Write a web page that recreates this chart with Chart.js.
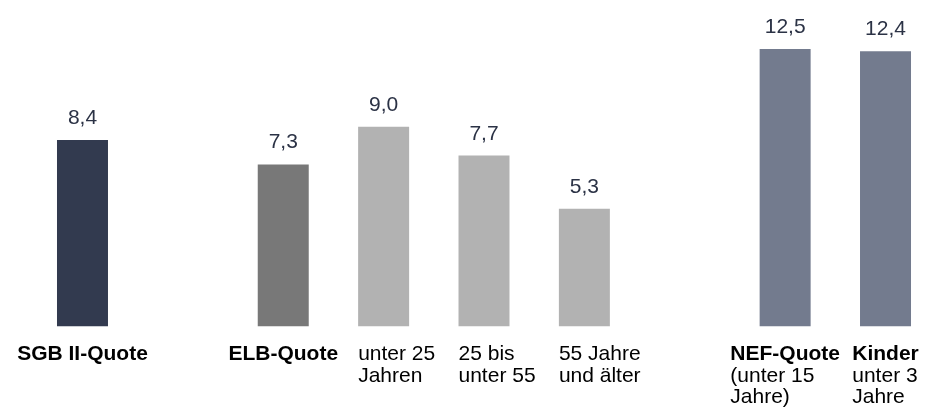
<!DOCTYPE html>
<html>
<head>
<meta charset="utf-8">
<script src="https://cdn.jsdelivr.net/npm/chart.js@4/dist/chart.umd.min.js"></script>
<style>
  html, body { margin: 0; padding: 0; background: #fff; overflow: hidden; }
  #wrap { width: 960px; height: 409px; }
</style>
</head>
<body>
<div id="wrap"><canvas id="chart"></canvas></div>
<script>
// slots: empty strings / nulls are the gaps between the groups
const headlines = ['SGB II-Quote', '', 'ELB-Quote', '', '', '', '', 'NEF-Quote', 'Kinder'];
const sublines = [
    [], [], [],
    ['unter 25', 'Jahren'],
    ['25 bis', 'unter 55'],
    ['55 Jahre', 'und älter'],
    [],
    ['(unter 15', 'Jahre)'],
    ['unter 3', 'Jahre']
];
const quoten = [8.4, null, 7.3, 9.0, 7.7, 5.3, null, 12.5, 12.4];

const barColors = ['#323a4f', '#fff', '#787878', '#b2b2b2', '#b2b2b2', '#b2b2b2', '#fff', '#737b8e', '#737b8e'];
const FONT = '"Liberation Sans", Arial, sans-serif';

function fmt(v) {
    return v.toFixed(1).replace('.', ',');
}

const labelPlugin = {
    id: 'labels',
    afterDatasetsDraw(chart) {
        const ctx = chart.ctx;
        const meta = chart.getDatasetMeta(0);
        const bottom = chart.chartArea.bottom;
        ctx.save();
        meta.data.forEach((bar, i) => {
            if (quoten[i] == null && !headlines[i]) return;
            // value above the bar
            if (quoten[i] != null) {
                ctx.font = '21px ' + FONT;
                ctx.fillStyle = '#2b3245';
                ctx.textAlign = 'center';
                ctx.textBaseline = 'alphabetic';
                ctx.fillText(fmt(quoten[i]), bar.x, bar.y - 16);
            }
            // category text below
            ctx.font = 'bold 21px ' + FONT;
            const hw = headlines[i] ? ctx.measureText(headlines[i]).width : 0;
            const left = bar.x - Math.max(bar.width, hw) / 2;
            ctx.textAlign = 'left';
            ctx.fillStyle = '#000';
            let y = bottom + 33.5;
            if (headlines[i]) {
                ctx.fillText(headlines[i], left, y);
                y += 21.5;
            }
            ctx.font = '21px ' + FONT;
            sublines[i].forEach(line => {
                ctx.fillText(line, left, y);
                y += 21.5;
            });
        });
        ctx.restore();
    }
};

new Chart(document.getElementById('chart').getContext('2d'), {
    type: 'bar',
    data: {
        labels: headlines.map((h, i) => h || sublines[i].join(' ') || ''),
        datasets: [{
            data: quoten,
            backgroundColor: barColors,
            barPercentage: 0.508,
            categoryPercentage: 1
        }]
    },
    options: {
        responsive: true,
        maintainAspectRatio: false,
        animation: false,
        layout: { padding: { left: 32.3, right: 24.3, top: 15.7, bottom: 82.5 } },
        plugins: { legend: { display: false }, tooltip: { enabled: false } },
        scales: {
            x: { display: false, offset: true },
            y: { display: false, min: 0, max: 14 }
        }
    },
    plugins: [labelPlugin]
});
</script>
</body>
</html>
